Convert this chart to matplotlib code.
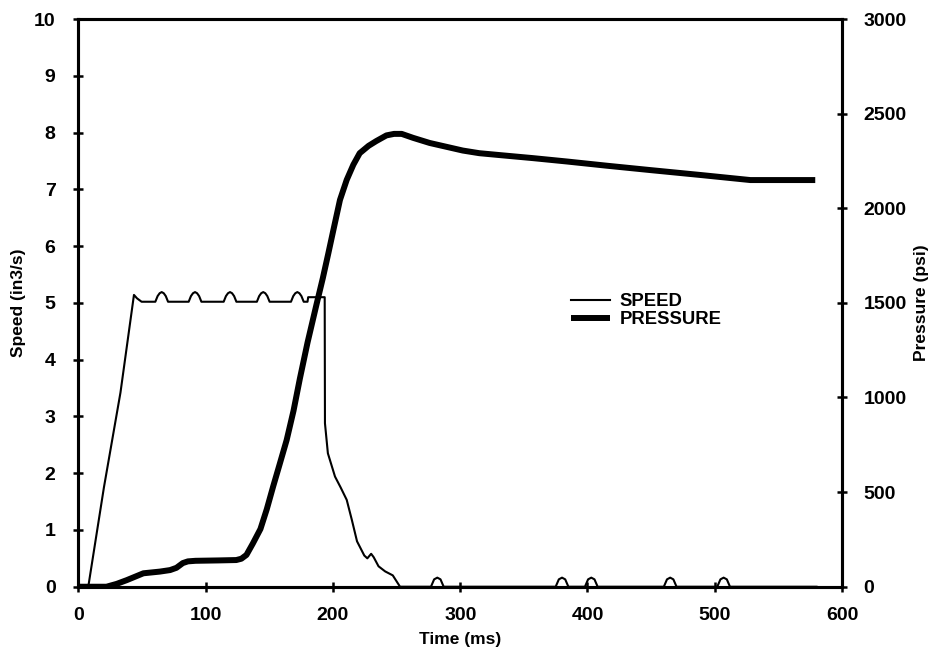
import matplotlib
matplotlib.use("Agg")
import matplotlib.pyplot as plt

# ---- data ----
speed_time = [0, 7.7, 20, 33, 43.6, 46, 49.6,
              60.4, 62.2, 63.8, 65.4, 67.0, 68.6, 70.4,
              86.6, 88.4, 90.0, 91.6, 93.2, 94.8, 96.6,
              114.1, 115.9, 117.5, 119.1, 120.7, 122.3, 124.1,
              140.2, 142.0, 143.6, 145.2, 146.8, 148.4, 150.2,
              167.0, 168.8, 170.4, 172.0, 173.6, 175.2, 177.0,
              180.0, 180.5, 193.5, 193.7, 196.0, 201.6, 206, 210.8, 214.8,
              218.9, 224.6, 227, 230, 232, 235.8, 241, 247, 252.7,
              277, 279.5, 282, 284.5, 287,
              375, 377.5, 380, 382.5, 385,
              398, 400.5, 403, 405.5, 408,
              460, 462.5, 465, 467.5, 470,
              502, 504.5, 507, 509.5, 512,
              580]
speed_vals = [0, 0, 1.75, 3.42, 5.14, 5.08, 5.02,
              5.02, 5.12, 5.17, 5.19, 5.17, 5.12, 5.02,
              5.02, 5.12, 5.17, 5.19, 5.17, 5.12, 5.02,
              5.02, 5.12, 5.17, 5.19, 5.17, 5.12, 5.02,
              5.02, 5.12, 5.17, 5.19, 5.17, 5.12, 5.02,
              5.02, 5.12, 5.17, 5.19, 5.17, 5.12, 5.02,
              5.02, 5.10, 5.10, 2.88, 2.35, 1.94, 1.75, 1.53, 1.18,
              0.80, 0.55, 0.50, 0.58, 0.52, 0.36, 0.27, 0.20, 0.0,
              0.0, 0.13, 0.16, 0.13, 0.0,
              0.0, 0.13, 0.16, 0.13, 0.0,
              0.0, 0.13, 0.16, 0.13, 0.0,
              0.0, 0.13, 0.16, 0.13, 0.0,
              0.0, 0.13, 0.16, 0.13, 0.0,
              0.0]

pressure_time = [0, 22, 30, 38, 51, 64, 72, 77, 82, 86, 92, 110, 124, 128, 132,
                 137, 143, 148, 153, 158, 163.6, 169, 174, 180, 187, 192, 196.3,
                 200, 205.5, 210.8, 216, 221, 228, 234, 242, 248, 254, 263, 276,
                 289, 302, 315, 331, 357, 384, 415, 449, 490, 528, 579]
pressure_vals = [0, 0, 15, 35, 71, 80, 88, 100, 125, 134, 137, 139, 141, 148, 168,
                 228, 305, 410, 530, 645, 775, 930, 1100, 1290, 1490, 1630, 1760,
                 1875, 2044, 2150, 2230, 2291, 2330, 2355, 2385, 2393, 2393, 2372, 2345,
                 2325, 2305, 2291, 2281, 2265, 2247, 2225, 2202, 2175, 2149, 2149]

x_ticks = [0, 100, 200, 300, 400, 500, 600]
speed_ticks = list(range(0, 11))
pressure_ticks = [0, 500, 1000, 1500, 2000, 2500, 3000]

# ---- style ----
plt.rcParams['font.family'] = ['Liberation Sans', 'DejaVu Sans']
plt.rcParams['font.weight'] = 'bold'

fig = plt.figure(figsize=(9.32, 6.56), dpi=100)
ax = fig.add_axes([0.0842, 0.1056, 0.8192, 0.8654])
ax2 = ax.twinx()

ax.plot(speed_time, speed_vals, color='black', lw=1.5, label='SPEED', zorder=3)
ax2.plot(pressure_time, pressure_vals, color='black', lw=4.3, label='PRESSURE',
         solid_capstyle='butt', solid_joinstyle='round', zorder=2)

ax.set_xlim(0, 600)
ax.set_ylim(0, 10)
ax2.set_ylim(0, 3000)
ax.set_xticks(x_ticks)
ax.set_yticks(speed_ticks)
ax2.set_yticks(pressure_ticks)

for a in (ax, ax2):
    for s in a.spines.values():
        s.set_linewidth(2.2)
    a.tick_params(direction='inout', length=7, width=1.8, labelsize=14)

ax.tick_params(axis='x', pad=11)
ax.tick_params(axis='y', pad=13)
ax2.tick_params(axis='y', pad=12)
ax.set_xlabel('Time (ms)', fontsize=12.5, fontweight='bold', labelpad=6)
ax.set_ylabel('Speed (in3/s)', fontsize=12.5, fontweight='bold', labelpad=6)
ax2.set_ylabel('Pressure (psi)', fontsize=12.5, fontweight='bold', labelpad=5)
for lab in ax.get_xticklabels() + ax.get_yticklabels() + ax2.get_yticklabels():
    lab.set_fontweight('bold')

h1, l1 = ax.get_legend_handles_labels()
h2, l2 = ax2.get_legend_handles_labels()
ax.legend(h1 + h2, l1 + l2, loc='center left', bbox_to_anchor=(0.645, 0.486),
          frameon=False, handlelength=2.1, handletextpad=0.55,
          labelspacing=0.05, borderpad=0, borderaxespad=0,
          prop={'weight': 'bold', 'size': 13.3})

fig.savefig('out.png', dpi=100)
